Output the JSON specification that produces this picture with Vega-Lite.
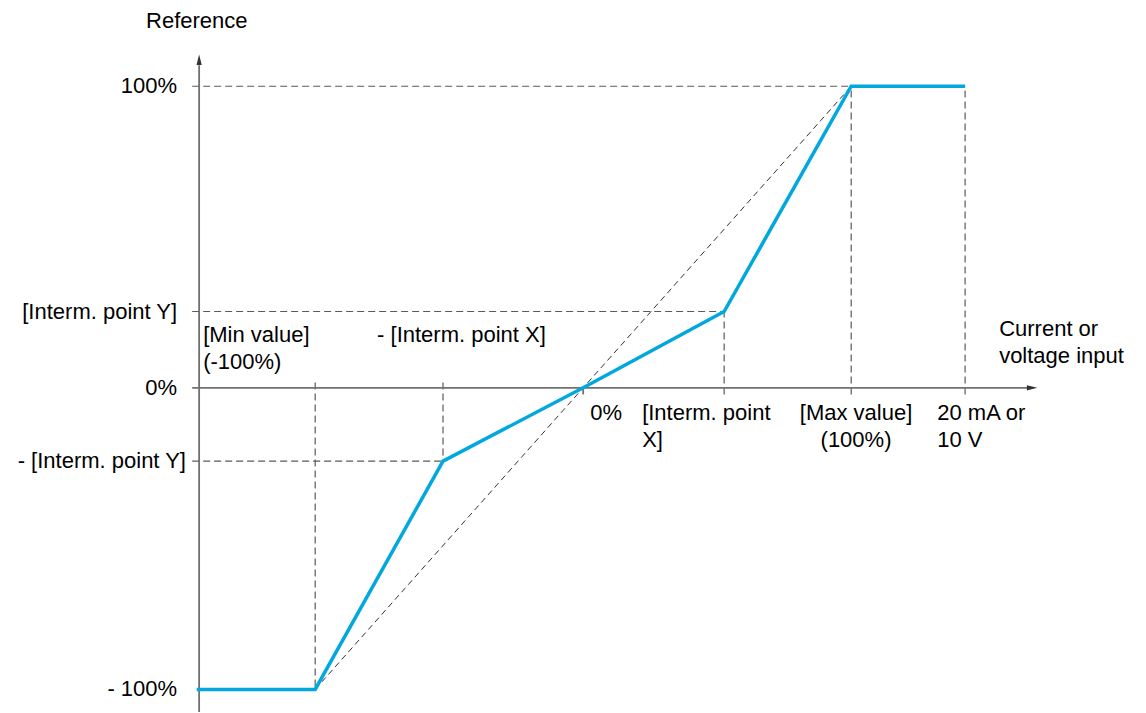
{
  "$schema": "https://vega.github.io/schema/vega-lite/v6.json",
  "width": 1146,
  "height": 713,
  "autosize": {"type": "fit", "contains": "padding"},
  "padding": 0,
  "background": "white",
  "config": {"view": {"stroke": null}},
  "datasets": {
    "axes": [
      {"x": -145.5, "y": 0, "x2": 166, "y2": 0},
      {"x": -142.9, "y": -107.5, "x2": -142.9, "y2": 107},
      {"x": 0.4, "y": 0, "x2": 0.4, "y2": -2.2}
    ],
    "guides": [
      {"x": -145.5, "y": 100, "x2": 142.9, "y2": 100},
      {"x": -145.5, "y": 25.3, "x2": 53, "y2": 25.3},
      {"x": -145.5, "y": -24.3, "x2": -51.9, "y2": -24.3},
      {"x": -99.6, "y": 1.8, "x2": -99.6, "y2": -100},
      {"x": -51.9, "y": 1.8, "x2": -51.9, "y2": -24.3},
      {"x": 53, "y": -2.2, "x2": 53, "y2": 25.3},
      {"x": 100.4, "y": -2.2, "x2": 100.4, "y2": 100},
      {"x": 142.9, "y": -2.2, "x2": 142.9, "y2": 100}
    ],
    "diag": [
      {"x": -99.6, "y": -100, "x2": 100.4, "y2": 100}
    ],
    "curve": [
      {"x": -143.8, "y": -100},
      {"x": -99.6, "y": -100},
      {"x": -51.9, "y": -24.3},
      {"x": 0.4, "y": 0},
      {"x": 53, "y": 25.3},
      {"x": 100.4, "y": 100},
      {"x": 142.9, "y": 100}
    ],
    "arrowUp": [{"x": -142.9, "y": 108.8}],
    "arrowRight": [{"x": 167.9, "y": 0}],
    "leftLabels": [
      {"x": -151.1, "y": 100, "t": "100%"},
      {"x": -151.1, "y": 25.3, "t": "[Interm. point Y]"},
      {"x": -151.1, "y": 0, "t": "0%"},
      {"x": -147.8, "y": -24.3, "t": "- [Interm. point Y]"},
      {"x": -151.1, "y": -100, "t": "- 100%"}
    ],
    "startLabels": [
      {"x": -162.7, "y": 119.4, "t": "Reference"},
      {"x": -141.4, "y": 15.1, "t": "[Min value]\n(-100%)"},
      {"x": -76.5, "y": 15.1, "t": "- [Interm. point X]"},
      {"x": 155.6, "y": 17.1, "t": "Current or\nvoltage input"},
      {"x": 3.0, "y": -10.8, "t": "0%"},
      {"x": 22.4, "y": -10.8, "t": "[Interm. point\nX]"},
      {"x": 132.5, "y": -10.8, "t": "20 mA or\n10 V"}
    ],
    "centerLabels": [
      {"x": 102.2, "y": -10.8, "t": "[Max value]\n(100%)"}
    ]
  },
  "encoding": {
    "x": {"field": "x", "type": "quantitative", "scale": {"domain": [-217.2, 210.4], "nice": false, "zero": false}, "axis": null},
    "y": {"field": "y", "type": "quantitative", "scale": {"domain": [-107.5, 128.6], "nice": false, "zero": false}, "axis": null}
  },
  "layer": [
    {
      "data": {"name": "guides"},
      "mark": {"type": "rule", "color": "#5a5a5a", "strokeWidth": 1.2, "strokeDash": [7, 4]},
      "encoding": {"x2": {"field": "x2"}, "y2": {"field": "y2"}}
    },
    {
      "data": {"name": "diag"},
      "mark": {"type": "rule", "color": "#333333", "strokeWidth": 1, "strokeDash": [6, 4]},
      "encoding": {"x2": {"field": "x2"}, "y2": {"field": "y2"}}
    },
    {
      "data": {"name": "axes"},
      "mark": {"type": "rule", "color": "#707070", "strokeWidth": 1.8},
      "encoding": {"x2": {"field": "x2"}, "y2": {"field": "y2"}}
    },
    {
      "data": {"name": "curve"},
      "mark": {"type": "line", "color": "#00a8de", "strokeWidth": 3.5, "strokeJoin": "miter", "strokeCap": "butt"},
      "encoding": {}
    },
    {
      "data": {"name": "arrowUp"},
      "mark": {"type": "point", "shape": "M0,-1L0.5,1L-0.5,1Z", "filled": true, "color": "#333333", "opacity": 1, "size": 110},
      "encoding": {}
    },
    {
      "data": {"name": "arrowRight"},
      "mark": {"type": "point", "shape": "M1,0L-1,0.5L-1,-0.5Z", "filled": true, "color": "#333333", "opacity": 1, "size": 110},
      "encoding": {}
    },
    {
      "data": {"name": "leftLabels"},
      "mark": {"type": "text", "align": "right", "baseline": "middle", "font": "Liberation Sans", "fontSize": 22, "color": "#000000"},
      "encoding": {"text": {"field": "t"}}
    },
    {
      "data": {"name": "startLabels"},
      "mark": {"type": "text", "align": "left", "baseline": "alphabetic", "font": "Liberation Sans", "fontSize": 22, "lineHeight": 27, "lineBreak": "\n", "color": "#000000"},
      "encoding": {"text": {"field": "t"}}
    },
    {
      "data": {"name": "centerLabels"},
      "mark": {"type": "text", "align": "center", "baseline": "alphabetic", "font": "Liberation Sans", "fontSize": 22, "lineHeight": 27, "lineBreak": "\n", "color": "#000000"},
      "encoding": {"text": {"field": "t"}}
    }
  ]
}
